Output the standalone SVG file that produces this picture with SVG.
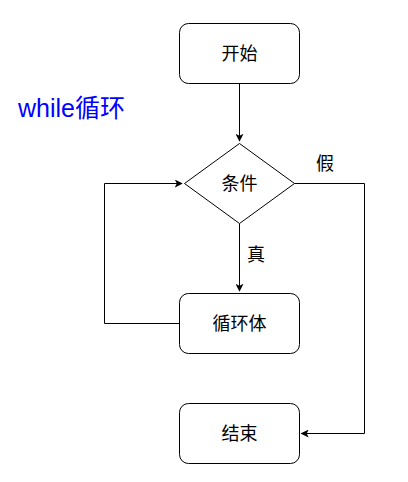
<svg xmlns="http://www.w3.org/2000/svg" width="408" height="482" viewBox="0 0 408 482">
<defs>
<marker id="arr" viewBox="0 0 10 10" refX="9" refY="5" markerWidth="8" markerHeight="8" markerUnits="userSpaceOnUse" orient="auto">
<path d="M0,0 L10,5 L0,10 L2.5,5 Z" fill="#000"/>
</marker>
</defs>
<style>
.box{fill:#fff;stroke:#000;stroke-width:1}
.lbl{font-family:"Liberation Sans","Noto Sans CJK SC",sans-serif;font-size:18px;fill:#000;text-anchor:middle;dominant-baseline:central}
.edge{fill:none;stroke:#000;stroke-width:1}
</style>
<rect width="408" height="482" fill="#fff"/>
<text x="18" y="108" font-family="'Liberation Sans','Noto Sans CJK SC',sans-serif" font-size="25" fill="#0000ff" dominant-baseline="central">while循环</text>
<g id="connectors">
<path class="edge" d="M239.5,83.5 V141" marker-end="url(#arr)"/>
<path class="edge" d="M239.5,223.5 V291" marker-end="url(#arr)"/>
<path class="edge" d="M179.5,323.5 H104.5 V183.5 H182" marker-end="url(#arr)"/>
<path class="edge" d="M294.5,183.5 H364.5 V433.5 H301.5" marker-end="url(#arr)"/>
<text class="lbl" x="325" y="164">假</text>
<text class="lbl" x="256" y="255">真</text>
</g>
<g id="start">
<rect class="box" x="179.5" y="23.5" width="120" height="60" rx="9"/>
<text class="lbl" x="239.5" y="53.5">开始</text>
</g>
<g id="cond">
<path class="box" d="M239.5,143.5 L294.5,183.5 L239.5,223.5 L184.5,183.5 Z"/>
<text class="lbl" x="239.5" y="183.5">条件</text>
</g>
<g id="body">
<rect class="box" x="179.5" y="293.5" width="120" height="60" rx="9"/>
<text class="lbl" x="239.5" y="323.5">循环体</text>
</g>
<g id="end">
<rect class="box" x="179.5" y="403.5" width="120" height="60" rx="9"/>
<text class="lbl" x="239.5" y="433.5">结束</text>
</g>
</svg>
